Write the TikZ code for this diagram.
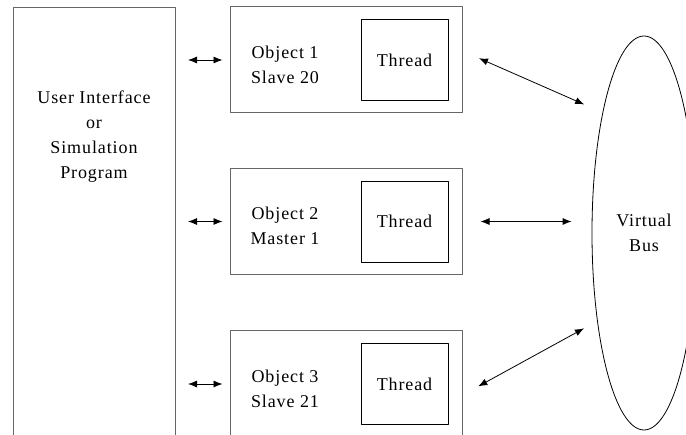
\documentclass[tikz,border=0pt]{standalone}
\usepackage{fontspec}
\setmainfont{Liberation Serif}[LetterSpace=5]
\usetikzlibrary{arrows.meta,shapes.geometric}
\begin{document}
\begin{tikzpicture}[x=1pt,y=-1pt,line join=round,>={Latex[length=9pt,width=7pt]},
	font=\fontsize{18}{25}\selectfont,
	objbox/.style={draw=black!60,line width=1pt,minimum width=232pt,minimum height=106pt,inner sep=0pt},
	thrbox/.style={draw,line width=0.8pt,minimum width=87pt,minimum height=81pt,inner sep=0pt},
	link/.style={<->,line width=0.8pt}]
	\useasboundingbox (0,0) rectangle (686,435);
	\clip (0,0) rectangle (686,435);
	\node[draw=black!60,line width=1pt,minimum width=162pt,minimum height=480pt,inner sep=0pt,anchor=north west] (ui) at (13,7) {};
	\node[align=center] (uitxt) at (94,137) {User Interface\\or\\Simulation\\Program};
	\foreach \i/\y/\l in {1/60/Slave 20,2/221.5/Master 1,3/384/Slave 21}{
		\node[objbox] (obj\i) at (346,\y) {};
		\node[thrbox] (thr\i) at (404.5,\y) {Thread};
		\node[align=center] (lbl\i) at (285,\y+4.5) {Object \i\\\l};
		\draw[link,shorten <=12pt,shorten >=7pt] (ui.east |- obj\i.west) -- (obj\i.west);
	}
	\node[draw,ellipse,line width=0.8pt,minimum width=104pt,minimum height=394pt,inner sep=0pt,align=center] (bus) at (644,233) {Virtual\\Bus};
	\draw[link,shorten <=18pt,shorten >=20pt] ([yshift=9pt]obj1.east) -- (bus.109.6);
	\draw[link,shorten <=18pt,shorten >=20pt] (obj2.east) -- (obj2.east -| bus.west);
	\draw[link,shorten <=18pt,shorten >=15pt] ([yshift=-11pt]obj3.east) -- (bus.242.6);
\end{tikzpicture}
\end{document}
